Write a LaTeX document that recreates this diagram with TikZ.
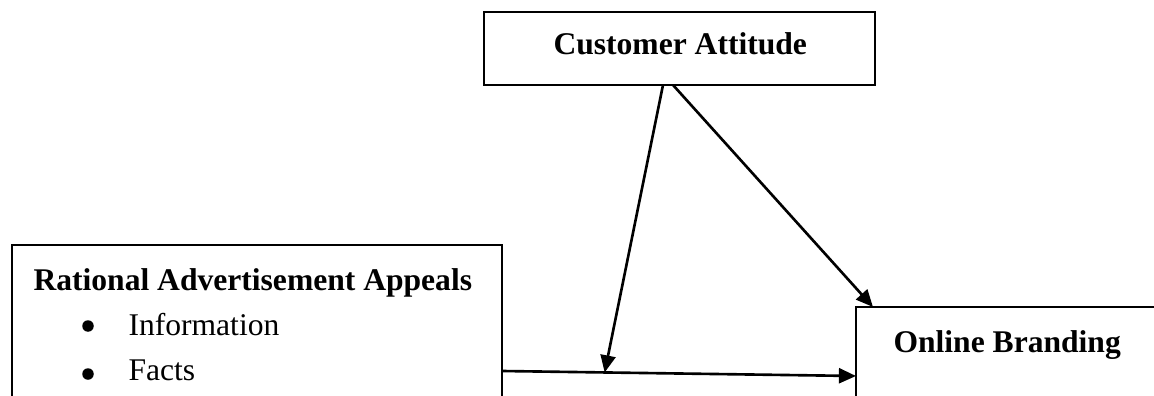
\documentclass[tikz,border=0pt]{standalone}
\usepackage{fontspec}
\setmainfont{Liberation Serif}
\usetikzlibrary{arrows.meta}
\newlength\px
\setlength\px{0.38pt}

\begin{document}
\begin{tikzpicture}[x=0.38pt, y=-0.38pt,
        every node/.style={font=\fontsize{12}{14}\selectfont},
        box/.style={draw, line width=0.75pt, inner sep=0pt, outer sep=0pt},
        head/.style={font=\fontsize{12}{14}\selectfont\bfseries, anchor=base west, inner sep=0pt},
        item/.style={anchor=base west, inner sep=0pt},
        dot/.style={circle, fill, inner sep=0pt, minimum size=11.5\px},
        link/.style={line width=1pt, -{Triangle[length=6.5pt, width=5.7pt]}}]
        \clip (0,0) rectangle (1154,396);

        \node[box, minimum width=391\px, minimum height=73\px, anchor=north west] (attitude) at (484,12) {};
        \node[head] (attitudetext) at (553,55) {Customer Attitude};

        \node[box, minimum width=490\px, minimum height=200\px, anchor=north west] (rational) at (12,245) {};
        \node[head] (rationaltext) at (33,290) {Rational Advertisement Appeals};
        \node[dot] (dot1) at (88,326) {};
        \node[item] (info) at (128,335) {Information};
        \node[dot] (dot2) at (88,374) {};
        \node[item] (facts) at (128,380) {Facts};

        \node[box, minimum width=304\px, minimum height=150\px, anchor=north west] (brand) at (856,307) {};
        \node[head] (brandtext) at (893,352) {Online Branding};

        \draw[link] ([yshift=-126\px]rational.north east) --
            coordinate[pos=0.29] (meet) ([yshift=-69\px]brand.north west);
        \draw[link] ([xshift=-16.5\px]attitude.south) -- (meet);
        \draw[link] ([xshift=-6.5\px]attitude.south) -- ([xshift=17\px]brand.north west);
    \end{tikzpicture}
\end{document}
